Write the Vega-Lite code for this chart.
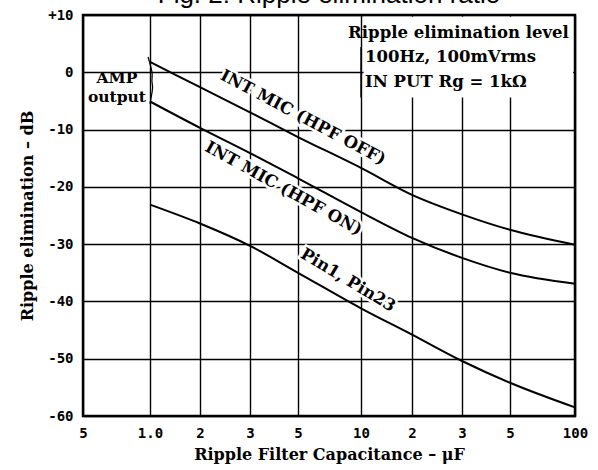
{
  "$schema": "https://vega.github.io/schema/vega-lite/v6.json",
  "width": 492,
  "height": 401,
  "autosize": {"type": "none"},
  "padding": {"left": 83, "top": 15, "right": 23, "bottom": 54},
  "background": "white",
  "title": {"text": "Fig. 2: Ripple elimination ratio", "font": "Liberation Sans", "fontSize": 26, "fontWeight": "normal", "color": "black", "anchor": "middle", "baseline": "bottom", "offset": -26},
  "config": {
    "view": {"stroke": "black", "strokeWidth": 2.5},
    "axis": {
      "domain": false, "ticks": false, "grid": true, "gridColor": "black", "gridOpacity": 1, "gridWidth": 1.4,
      "labelFont": "DejaVu Sans Mono", "labelFontWeight": "bold", "labelFontSize": 14, "labelColor": "black", "labelOverlap": false, "labelFlush": false,
      "titleFont": "DejaVu Serif", "titleFontWeight": "bold", "titleFontSize": 16, "titleColor": "black"
    },
    "text": {"font": "DejaVu Serif", "fontWeight": "bold", "color": "black"}
  },
  "encoding": {
    "x": {"field": "x", "type": "quantitative",
      "scale": {"type": "log", "domain": [0.5, 1, 2, 3, 5, 10, 20, 30, 50, 100], "range": [0, 67, 117, 167, 215, 278, 329, 379, 427, 492], "nice": false},
      "axis": {"values": [0.5, 1, 2, 3, 5, 10, 20, 30, 50, 100], "labelExpr": "datum.value == 0.5 ? '5' : datum.value == 1 ? '1.0' : (datum.value >= 20 && datum.value <= 50) ? '' + (datum.value / 10) : '' + datum.value", "labelAngle": 0, "labelPadding": 10, "title": "Ripple Filter Capacitance – μF", "titlePadding": 6}},
    "y": {"field": "y", "type": "quantitative",
      "scale": {"domain": [-60, 10], "nice": false, "zero": false},
      "axis": {"values": [-60, -50, -40, -30, -20, -10, 0, 10], "labelExpr": "datum.value > 0 ? '+' + datum.value : datum.value < 0 ? '-' + abs(datum.value) : '0'", "labelPadding": 10, "title": "Ripple elimination – dB", "titlePadding": 12}}
  },
  "layer": [
    {
      "data": {"values": [{"x": 10.35, "x2": 98, "y": 9.7, "y2": -4.4}]},
      "mark": {"type": "rect", "fill": "white", "stroke": null},
      "encoding": {"x2": {"field": "x2"}, "y2": {"field": "y2"}}
    },
    {
      "data": {"values": [{"x": 10, "y": 4.4, "y2": -4.4}]},
      "mark": {"type": "rule", "color": "black", "strokeWidth": 1.4},
      "encoding": {"y2": {"field": "y2"}}
    },
    {
      "data": {"values": [
        {"curve": "INT MIC (HPF OFF)", "x": 1, "y": 1.8},
        {"curve": "INT MIC (HPF OFF)", "x": 2, "y": -2.6},
        {"curve": "INT MIC (HPF OFF)", "x": 3, "y": -7},
        {"curve": "INT MIC (HPF OFF)", "x": 5, "y": -11.3},
        {"curve": "INT MIC (HPF OFF)", "x": 10, "y": -16.7},
        {"curve": "INT MIC (HPF OFF)", "x": 20, "y": -21.4},
        {"curve": "INT MIC (HPF OFF)", "x": 30, "y": -24.8},
        {"curve": "INT MIC (HPF OFF)", "x": 50, "y": -27.5},
        {"curve": "INT MIC (HPF OFF)", "x": 100, "y": -30.1},
        {"curve": "INT MIC (HPF ON)", "x": 1, "y": -5.1},
        {"curve": "INT MIC (HPF ON)", "x": 2, "y": -9.7},
        {"curve": "INT MIC (HPF ON)", "x": 3, "y": -14.1},
        {"curve": "INT MIC (HPF ON)", "x": 5, "y": -18.5},
        {"curve": "INT MIC (HPF ON)", "x": 10, "y": -24.4},
        {"curve": "INT MIC (HPF ON)", "x": 20, "y": -28.9},
        {"curve": "INT MIC (HPF ON)", "x": 30, "y": -32.4},
        {"curve": "INT MIC (HPF ON)", "x": 50, "y": -35},
        {"curve": "INT MIC (HPF ON)", "x": 100, "y": -36.9},
        {"curve": "Pin1, Pin23", "x": 1, "y": -23.1},
        {"curve": "Pin1, Pin23", "x": 2, "y": -26.4},
        {"curve": "Pin1, Pin23", "x": 3, "y": -30.3},
        {"curve": "Pin1, Pin23", "x": 5, "y": -35},
        {"curve": "Pin1, Pin23", "x": 10, "y": -41.2},
        {"curve": "Pin1, Pin23", "x": 20, "y": -45.8},
        {"curve": "Pin1, Pin23", "x": 30, "y": -50.4},
        {"curve": "Pin1, Pin23", "x": 50, "y": -54.2},
        {"curve": "Pin1, Pin23", "x": 100, "y": -58.5}
      ]},
      "mark": {"type": "line", "color": "black", "strokeWidth": 2, "interpolate": "monotone"},
      "encoding": {"detail": {"field": "curve"}}
    },
    {
      "data": {"values": [
        {"x": 0.98, "y": 2.7}, {"x": 1.0, "y": 1.5}, {"x": 1.04, "y": -0.3}, {"x": 1.02, "y": -1.5},
        {"x": 1.045, "y": -2.6}, {"x": 1.02, "y": -4.1}, {"x": 1.0, "y": -5.5}
      ]},
      "mark": {"type": "line", "color": "black", "strokeWidth": 1.2, "interpolate": "basis"},
      "encoding": {"order": {"field": "y", "sort": "descending"}}
    },
    {
      "data": {"values": [{"text": "INT MIC (HPF OFF)", "x": 5.28, "y": -7.9}]},
      "mark": {"type": "text", "angle": 28, "fontSize": 16.5, "stroke": "white", "strokeWidth": 5, "fill": "white"},
      "encoding": {"text": {"field": "text"}}
    },
    {
      "data": {"values": [{"text": "INT MIC (HPF OFF)", "x": 5.28, "y": -7.9}]},
      "mark": {"type": "text", "angle": 28, "fontSize": 16.5},
      "encoding": {"text": {"field": "text"}}
    },
    {
      "data": {"values": [{"text": "INT MIC (HPF ON)", "x": 4.29, "y": -20.3}]},
      "mark": {"type": "text", "angle": 29, "fontSize": 16.5, "stroke": "white", "strokeWidth": 5, "fill": "white"},
      "encoding": {"text": {"field": "text"}}
    },
    {
      "data": {"values": [{"text": "INT MIC (HPF ON)", "x": 4.29, "y": -20.3}]},
      "mark": {"type": "text", "angle": 29, "fontSize": 16.5},
      "encoding": {"text": {"field": "text"}}
    },
    {
      "data": {"values": [{"text": "Pin1, Pin23", "x": 8.67, "y": -36.3}]},
      "mark": {"type": "text", "angle": 31, "fontSize": 16.5, "stroke": "white", "strokeWidth": 5, "fill": "white"},
      "encoding": {"text": {"field": "text"}}
    },
    {
      "data": {"values": [{"text": "Pin1, Pin23", "x": 8.67, "y": -36.3}]},
      "mark": {"type": "text", "angle": 31, "fontSize": 16.5},
      "encoding": {"text": {"field": "text"}}
    },
    {
      "data": {"values": [{"text": "AMP", "x": 0.71, "y": -1.0}, {"text": "output", "x": 0.71, "y": -4.3}]},
      "mark": {"type": "text", "fontSize": 15.5, "align": "center"},
      "encoding": {"text": {"field": "text"}}
    },
    {
      "data": {"values": [{"text": "Ripple elimination level", "x": 93.7, "y": 6.9}]},
      "mark": {"type": "text", "fontSize": 16.5, "align": "right"},
      "encoding": {"text": {"field": "text"}}
    },
    {
      "data": {"values": [{"text": "100Hz, 100mVrms", "x": 10.57, "y": 2.7}, {"text": "IN PUT Rg = 1kΩ", "x": 10.57, "y": -1.7}]},
      "mark": {"type": "text", "fontSize": 16.5, "align": "left"},
      "encoding": {"text": {"field": "text"}}
    }
  ]
}
